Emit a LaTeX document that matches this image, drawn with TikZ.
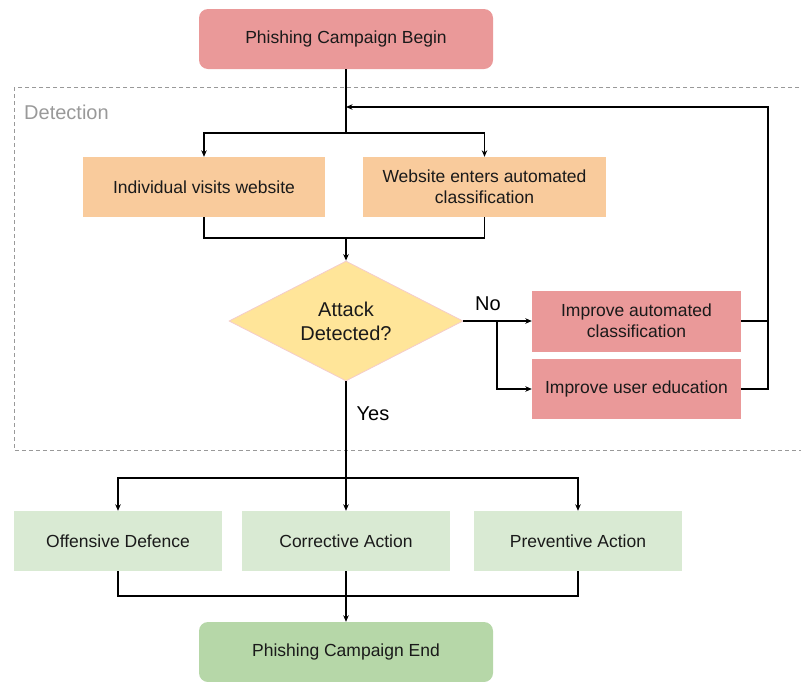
\documentclass[tikz,border=0pt]{standalone}
\usepackage{fontspec}
\setmainfont{Liberation Sans}
\usetikzlibrary{arrows.meta,shapes.geometric}
\definecolor{redfill}{HTML}{EA9999}
\definecolor{orangefill}{HTML}{F9CB9C}
\definecolor{yellowfill}{HTML}{FFE599}
\definecolor{greenfill}{HTML}{D9EAD3}
\definecolor{darkgreenfill}{HTML}{B6D7A8}
\definecolor{pinkedge}{HTML}{F4CCCC}
\definecolor{txt}{HTML}{1A1A1A}
\tikzset{
  box/.style={draw=none, inner sep=0pt, align=center, text=txt,
    font=\fontsize{17.5}{21}\selectfont},
  term/.style={box, rounded corners=9pt, minimum width=294pt, minimum height=60pt},
  conn/.style={line width=1.1pt, draw=black},
  arr/.style={conn, -{Stealth[length=6.5pt,width=5.5pt]}},
  lbl/.style={inner sep=0pt, text=black, font=\fontsize{20}{24}\selectfont}
}
\begin{document}
\begin{tikzpicture}[x=1pt,y=-1pt]
\useasboundingbox (0,0) rectangle (801,681);
% detection area
\draw[gray!80, line width=0.9pt, dash pattern=on 4pt off 3pt] (14,87) rectangle (803,450);
\node[anchor=west, inner sep=0pt, text=gray!80, font=\fontsize{20}{24}\selectfont] (det) at (24,112) {Detection};
% nodes
\node[term, fill=redfill] (begin) at (346,39) {Phishing Campaign Begin};
\node[box, fill=orangefill, minimum width=242pt, minimum height=60pt] (o1) at (204,187) {Individual visits website};
\node[box, fill=orangefill, minimum width=243pt, minimum height=60pt] (o2) at (484.5,187) {Website enters automated\\classification};
\node[diamond, aspect=1.95, fill=yellowfill, draw=pinkedge, line width=0.8pt, inner sep=0pt,
  minimum width=234pt, minimum height=120pt, align=center, text=txt,
  font=\fontsize{20}{24}\selectfont] (dia) at (346,321) {Attack\\Detected?};
\node[box, fill=redfill, minimum width=209pt, minimum height=61pt] (r1) at (636.5,321) {Improve automated\\classification};
\node[box, fill=redfill, minimum width=209pt, minimum height=60pt] (r2) at (636.5,389) {Improve user education};
\node[box, fill=greenfill, minimum width=208pt, minimum height=60pt] (g1) at (118,541) {Offensive Defence};
\node[box, fill=greenfill, minimum width=208pt, minimum height=60pt] (g2) at (346,541) {Corrective Action};
\node[box, fill=greenfill, minimum width=208pt, minimum height=60pt] (g3) at (578,541) {Preventive Action};
\node[term, fill=darkgreenfill] (endn) at (346,652) {Phishing Campaign End};
% labels
\node[lbl] (no) at (488,304) {No};
\node[lbl] (yes) at (373,414) {Yes};
% junctions
\coordinate (s1) at (346,133);
\coordinate (s2) at (346,238);
\coordinate (j1) at (497,321);
\coordinate (fb1) at (768,321);
\coordinate (fbt) at (768,107);
\coordinate (fbe) at (346,107);
\coordinate (s3) at (346,478);
\coordinate (s4) at (346,596);
% connectors
\draw[conn] (begin.south) -- (s1);
\draw[arr] (s1) -| (o1.north);
\draw[arr] (s1) -| (o2.north);
\draw[conn] (o1.south) |- (s2);
\draw[conn] (o2.south) |- (s2);
\draw[arr] (s2) -- (dia.north);
\draw[conn] (dia.east) -- (j1);
\draw[arr] (j1) -- (r1.west);
\draw[arr] (j1) |- (r2.west);
\draw[conn] (r1.east) -- (fb1);
\draw[arr] (r2.east) -| (fbt) -- (fbe);
\draw[conn] (dia.south) -- (s3);
\draw[arr] (s3) -| (g1.north);
\draw[arr] (s3) -- (g2.north);
\draw[arr] (s3) -| (g3.north);
\draw[conn] (g1.south) |- (s4);
\draw[conn] (g3.south) |- (s4);
\draw[arr] (g2.south) -- (endn.north);
\end{tikzpicture}
\end{document}
